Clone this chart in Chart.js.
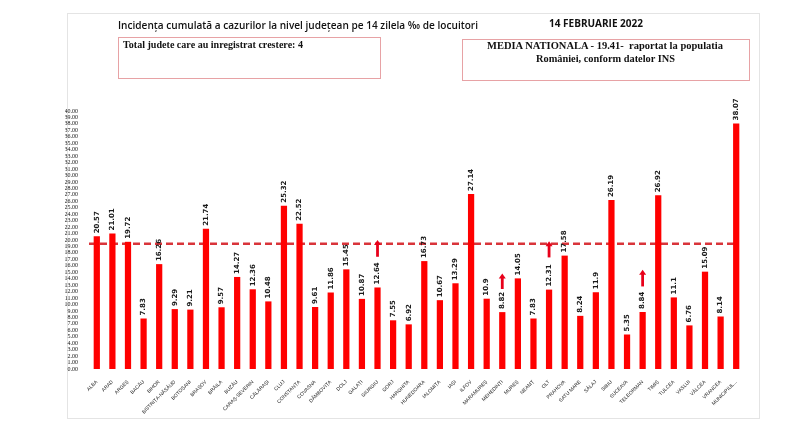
<!DOCTYPE html>
<html>
<head>
<meta charset="utf-8">
<script src="https://cdn.jsdelivr.net/npm/chart.js@4.4.1/dist/chart.umd.min.js"></script>
<style>
    body { margin: 0; background: #fff; }
    #wrap { position: relative; width: 800px; height: 441px; overflow: hidden; }
    #panel { position: absolute; left: 67px; top: 13px; width: 691px; height: 404px; border: 1px solid #e4e4e4; }
    .txt { position: absolute; white-space: pre; line-height: 14px; color: #111; transform-origin: left center; }
    .box { position: absolute; border: 1px solid #e7a2a5; }
    canvas { position: absolute; left: 0; top: 0; }
</style>
</head>
<body>
<div id="wrap">
    <div id="panel"></div>
    <canvas id="incidenceChart" width="800" height="441"></canvas>
    <div class="box" style="left:118px;top:37px;width:261px;height:40px;"></div>
    <div class="box" style="left:462px;top:39px;width:286px;height:40px;"></div>
    <div class="txt" data-w="360" style="left:118px;top:17px;font:600 11px 'Open Sans';">Incidența cumulată a cazurilor la nivel județean pe 14 zilela ‰ de locuitori</div>
    <div class="txt" data-w="94" style="left:549px;top:15px;font:700 11px 'Open Sans';">14 FEBRUARIE 2022</div>
    <div class="txt" data-w="180" style="left:123px;top:39px;font:700 10px 'Liberation Sans Narrow';">Total judete care au inregistrat crestere: 4</div>
    <div class="txt" data-w="236" style="left:487px;top:39px;font:700 11px 'Liberation Serif';">MEDIA NATIONALA - 19.41-  raportat la populatia</div>
    <div class="txt" data-w="139" style="left:536px;top:52px;font:700 11px 'Liberation Serif';">României, conform datelor INS</div>
</div>
<script>
// squeeze each text line to the width it has in the picture
document.querySelectorAll('.txt').forEach(function (el) {
    const target = parseFloat(el.dataset.w);
    const w = el.getBoundingClientRect().width;
    if (w > 0) el.style.transform = 'scaleX(' + (target / w) + ')';
});

const counties = ['ALBA', 'ARAD', 'ARGEȘ', 'BACĂU', 'BIHOR', 'BISTRIȚA-NĂSĂUD', 'BOTOȘANI', 'BRAȘOV',
    'BRĂILA', 'BUZĂU', 'CARAȘ-SEVERIN', 'CĂLĂRAȘI', 'CLUJ', 'CONSTANȚA', 'COVASNA', 'DÂMBOVIȚA',
    'DOLJ', 'GALAȚI', 'GIURGIU', 'GORJ', 'HARGHITA', 'HUNEDOARA', 'IALOMIȚA', 'IAȘI', 'ILFOV',
    'MARAMUREȘ', 'MEHEDINȚI', 'MUREȘ', 'NEAMȚ', 'OLT', 'PRAHOVA', 'SATU MARE', 'SĂLAJ', 'SIBIU',
    'SUCEAVA', 'TELEORMAN', 'TIMIȘ', 'TULCEA', 'VASLUI', 'VÂLCEA', 'VRANCEA', 'MUNICIPIUL...'];

const incidence = [20.57, 21.01, 19.72, 7.83, 16.26, 9.29, 9.21, 21.74,
    9.57, 14.27, 12.36, 10.48, 25.32, 22.52, 9.61, 11.86,
    15.45, 10.87, 12.64, 7.55, 6.92, 16.73, 10.67, 13.29, 27.14,
    10.9, 8.82, 14.05, 7.83, 12.31, 17.58, 8.24, 11.9, 26.19,
    5.35, 8.84, 26.92, 11.1, 6.76, 15.09, 8.14, 38.07];

const nationalMean = 19.41;

// counties marked with an up arrow (growth)
const arrowCounties = ['GIURGIU', 'MEHEDINȚI', 'OLT', 'TELEORMAN'];
const arrowFrom = [17.4, 12.4, 17.3, 12.8];
const arrowTo = [20.0, 14.8, 19.8, 15.4];

const meanLinePlugin = {
    id: 'meanLine',
    beforeDatasetsDraw(chart) {
        const { ctx, chartArea, scales } = chart;
        const y = scales.y.getPixelForValue(nationalMean);
        ctx.save();
        ctx.strokeStyle = '#d9343a';
        ctx.lineWidth = 2.4;
        ctx.setLineDash([7, 4]);
        ctx.beginPath();
        ctx.moveTo(chartArea.left, y);
        ctx.lineTo(chartArea.right - 6, y);
        ctx.stroke();
        ctx.restore();
    }
};

const barLabelPlugin = {
    id: 'barLabels',
    afterDatasetsDraw(chart) {
        const { ctx } = chart;
        const meta = chart.getDatasetMeta(0);
        ctx.save();
        ctx.fillStyle = '#1a1a1a';
        ctx.font = "bold 7px 'DejaVu Sans'";
        ctx.textAlign = 'left';
        ctx.textBaseline = 'middle';
        meta.data.forEach(function (bar, i) {
            ctx.save();
            ctx.translate(bar.x, bar.y - 3);
            ctx.rotate(-Math.PI / 2);
            ctx.fillText(String(incidence[i]), 0, 0);
            ctx.restore();
        });
        ctx.restore();
    }
};

const arrowPlugin = {
    id: 'growthArrows',
    afterDatasetsDraw(chart) {
        const { ctx, scales } = chart;
        ctx.save();
        ctx.strokeStyle = '#e8001a';
        ctx.fillStyle = '#e8001a';
        ctx.lineWidth = 2.8;
        arrowCounties.forEach(function (name, k) {
            const i = counties.indexOf(name);
            const x = scales.x.getPixelForValue(i);
            const y1 = scales.y.getPixelForValue(arrowFrom[k]);
            const y2 = scales.y.getPixelForValue(arrowTo[k]);
            ctx.beginPath();
            ctx.moveTo(x, y1);
            ctx.lineTo(x, y2 + 3);
            ctx.stroke();
            ctx.beginPath();
            ctx.moveTo(x, y2);
            ctx.lineTo(x - 3.5, y2 + 5);
            ctx.lineTo(x + 3.5, y2 + 5);
            ctx.closePath();
            ctx.fill();
        });
        ctx.restore();
    }
};

const ctx = document.getElementById('incidenceChart').getContext('2d');

new Chart(ctx, {
    type: 'bar',
    data: {
        labels: counties,
        datasets: [{
            label: 'Incidenta',
            data: incidence,
            backgroundColor: '#ff0000',
            borderWidth: 0,
            barPercentage: 0.4,
            categoryPercentage: 1.0
        }]
    },
    options: {
        responsive: false,
        animation: false,
        layout: {
            padding: { left: 65, top: 111, right: 56, bottom: 0 }
        },
        plugins: {
            legend: { display: false },
            tooltip: { enabled: false }
        },
        scales: {
            x: {
                grid: { display: false },
                border: { display: false },
                ticks: {
                    autoSkip: false,
                    maxRotation: 45,
                    minRotation: 45,
                    padding: 2,
                    color: '#222',
                    font: { family: 'Liberation Sans', size: 5 }
                },
                afterFit: function (scale) { scale.height = 72; }
            },
            y: {
                min: 0,
                max: 40,
                grid: { display: false },
                border: { display: false },
                ticks: {
                    stepSize: 1,
                    autoSkip: false,
                    maxTicksLimit: 100,
                    padding: 3,
                    color: '#111',
                    font: { family: 'Liberation Sans Narrow', size: 6 },
                    callback: function (v) { return v.toFixed(2); }
                },
                afterFit: function (scale) { scale.width = 24; }
            }
        }
    },
    plugins: [meanLinePlugin, barLabelPlugin, arrowPlugin]
});
</script>
</body>
</html>
